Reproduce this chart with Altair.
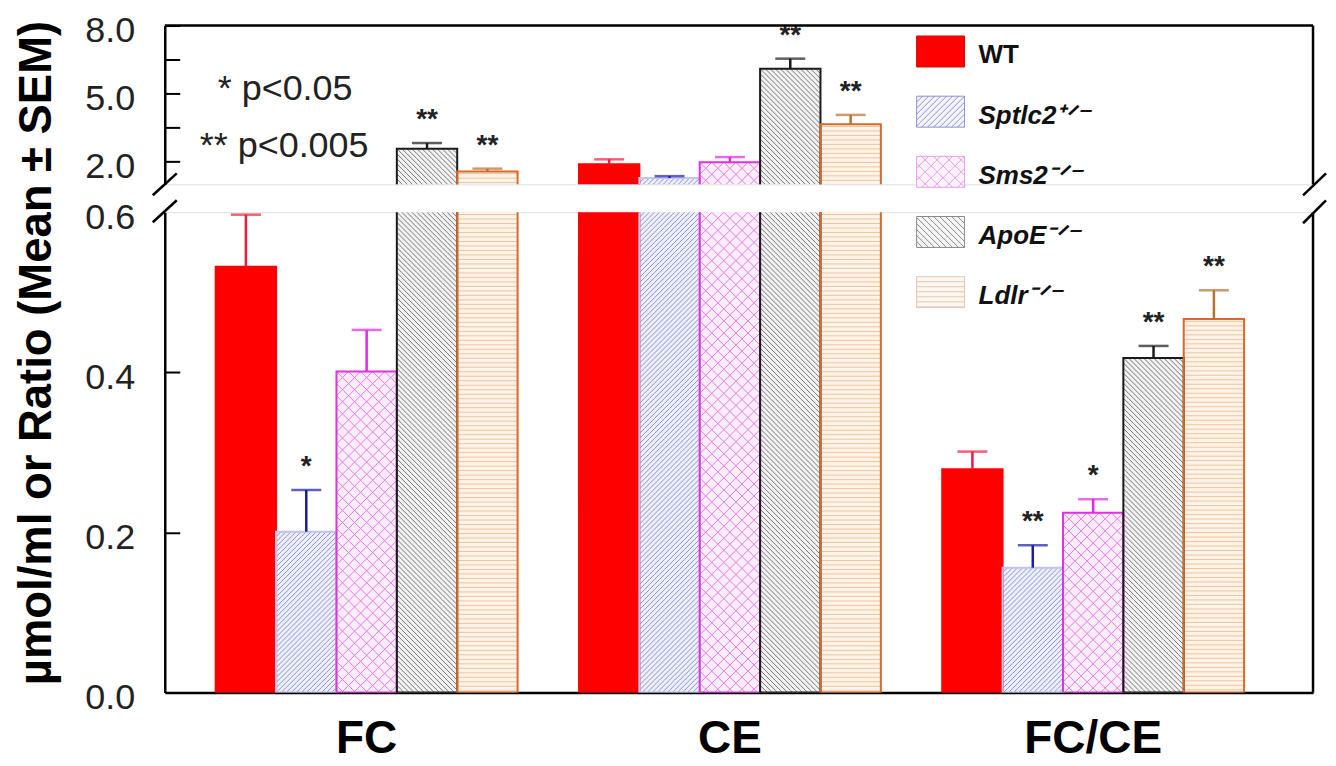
import altair as alt
import pandas as pd

# ---------------- data ----------------
groups = ["FC", "CE", "FC/CE"]
genotypes = ["WT", "Sptlc2", "Sms2", "ApoE", "Ldlr"]
legend_labels = ["WT", "Sptlc2⁺ᐟ⁻", "Sms2⁻ᐟ⁻", "ApoE⁻ᐟ⁻", "Ldlr⁻ᐟ⁻"]

fc_mean = [0.532, 0.201, 0.401, 2.57, 1.57]
ce_mean = [1.88, 1.28, 1.97, 6.10, 3.65]
ratio_mean = [0.279, 0.156, 0.2245, 0.418, 0.4665]

fc_sem = [0.065, 0.052, 0.052, 0.25, 0.12]
ce_sem = [0.22, 0.08, 0.23, 0.44, 0.41]
ratio_sem = [0.022, 0.028, 0.017, 0.015, 0.036]

fc_sig = ["", "*", "", "**", "**"]
ce_sig = ["", "", "", "**", "**"]
ratio_sig = ["", "**", "*", "**", "**"]

upper_tick_values = [2.0, 3.5, 5.0, 6.5, 8.0]
upper_label_values = [2.0, 5.0, 8.0]
lower_tick_values = [0.2, 0.4]
lower_label_values = [0.0, 0.2, 0.4, 0.6]

pvalue_notes = ["* p<0.05", "** p<0.005"]
y_title = "µmol/ml or Ratio (Mean ± SEM)"

rows = []
for g, means, sems, sigs in zip(groups, [fc_mean, ce_mean, ratio_mean],
                                [fc_sem, ce_sem, ratio_sem],
                                [fc_sig, ce_sig, ratio_sig]):
    for geno, m, s, sg in zip(genotypes, means, sems, sigs):
        rows.append({"group": g, "geno": geno, "value": m, "sem": s, "sig": sg})
df = pd.DataFrame(rows)
legend_df = pd.DataFrame({"geno": genotypes, "label": legend_labels})
one_df = pd.DataFrame({"k": [0]})

# ---------------- styling / geometry ----------------
FONT = "Liberation Sans"
W = 1150
H_UP = 159
H_LOW = 481
GAP = 28
UP_DOM = (1.0, 8.0)
LOW_DOM = (0.0, 0.6)
PI, PO, ALIGN = 0.169, 0.165, 0.425
STEP = W / (3 - PI + 2 * PO)
BAR_W = STEP * (1 - PI) / 5

fill_colors = ["#ff0000", "#eceefa", "#fcedfc", "#f1f1f1", "#fdf3e8"]
outline_colors = ["#ff0000", "#c0c4ee", "#e030e0", "#1a1a1a", "#d8692a"]
err_colors = ["#ee1c3c", "#1c1ca8", "#e028e0", "#1a1a1a", "#b8722e"]

# hatch: kind, spacing px, line colour
hatch = {
    "Sptlc2": ("fwd", 5.0, "#8a92d2"),
    "Sms2": ("cross", 12.0, "#e27ae2"),
    "ApoE": ("back", 5.0, "#777777"),
    "Ldlr": ("horiz", 4.5, "#efc49c"),
}
legend_style = {
    "WT": ("none", 1.0, "#ff0000", "#e00000"),
    "Sptlc2": ("fwd", 0.25, "#f4f4fc", "#8c92d6"),
    "Sms2": ("cross", 0.5, "#fdf3fd", "#e89ee8"),
    "ApoE": ("back", 0.25, "#f6f6f6", "#8a8a8a"),
    "Ldlr": ("horiz", 0.21, "#fdf8f2", "#e6c6ac"),
}

hatch_kind_spacing = {v[0]: v[1] for v in hatch.values()}


def tile_path(kind):
    spacing = hatch_kind_spacing[kind]
    if kind == "horiz":
        return "M-1,0L1,0", spacing
    n = max(1, round(BAR_W / spacing))
    hu = 2.0 / n
    segs = []
    for k in range(n):
        x0 = -1 + k * hu
        if kind in ("fwd", "cross"):
            segs.append(f"M{x0:.4f},{hu/2:.4f}L{x0+hu:.4f},{-hu/2:.4f}")
        if kind in ("back", "cross"):
            segs.append(f"M{x0:.4f},{-hu/2:.4f}L{x0+hu:.4f},{hu/2:.4f}")
    return "".join(segs), BAR_W / n


def swatch_path(kind, d, a=0.646):
    parts = [f"M-1,{-a:.3f}L1,{-a:.3f}L1,{a:.3f}L-1,{a:.3f}Z"]
    if kind in ("fwd", "back", "cross"):
        c = -1 - a + d
        while c < 1 + a:
            x1, x2 = max(-1, c - a), min(1, c + a)
            if x2 - x1 > 1e-6:
                if kind in ("fwd", "cross"):
                    parts.append(f"M{x1:.3f},{c-x1:.3f}L{x2:.3f},{c-x2:.3f}")
                if kind in ("back", "cross"):
                    parts.append(f"M{x1:.3f},{x1-c:.3f}L{x2:.3f},{x2-c:.3f}")
            c += d
    elif kind == "horiz":
        c = -a + d
        while c < a - 1e-6:
            parts.append(f"M-1,{c:.3f}L1,{c:.3f}")
            c += d
    return "".join(parts)


xscale = alt.Scale(domain=groups, paddingInner=PI, paddingOuter=PO, align=ALIGN)
x_axis = alt.Axis(labelFontSize=46, labelFontWeight="bold", labelFont=FONT,
                  labelColor="black", labelAngle=0, ticks=False, tickSize=0,
                  labelPadding=24, domain=True, domainColor="black",
                  domainWidth=2.5, grid=False)
x_low = alt.X("group:N", sort=groups, scale=xscale, axis=x_axis, title=None)
x_up = alt.X("group:N", sort=groups, scale=xscale, axis=None, title=None)
xoff = alt.XOffset("geno:N", sort=genotypes,
                   scale=alt.Scale(domain=genotypes, paddingInner=0, paddingOuter=0))

fill_enc = alt.Fill("geno:N", scale=alt.Scale(domain=genotypes, range=fill_colors), legend=None)
stroke_enc = alt.Stroke("geno:N", scale=alt.Scale(domain=genotypes, range=outline_colors), legend=None)
color_enc = alt.Color("geno:N", scale=alt.Scale(domain=genotypes, range=err_colors), legend=None)


def rule(x, x2, y, y2, width=2.5):
    return alt.Chart(one_df).mark_rule(color="black", strokeWidth=width, strokeCap="butt").encode(
        x=alt.value(x), x2=alt.value(x2), y=alt.value(y), y2=alt.value(y2))


def panel(lower):
    H = H_LOW if lower else H_UP
    lo, hi = LOW_DOM if lower else UP_DOM
    ysc = alt.Scale(domain=[lo, hi], nice=False, zero=False)
    xenc = x_low if lower else x_up

    label_kwargs = dict(values=lower_label_values if lower else upper_label_values,
                        format=".1f", ticks=False, tickSize=0, labelPadding=30,
                        labelFontSize=36, labelFont=FONT, labelColor="#222",
                        labelOffset=5, domain=True, domainColor="black",
                        domainWidth=2.5, grid=False)
    if lower:
        label_axis = alt.Axis(title=y_title, titleFontSize=45.5, titleFont=FONT,
                              titleFontWeight="bold", titleColor="black",
                              titleX=-114, titleY=140.5, titleBaseline="alphabetic",
                              titleAngle=270, **label_kwargs)
    else:
        label_axis = alt.Axis(title=None, **label_kwargs)
    tick_axis = alt.Axis(orient="right", offset=-W,
                         values=lower_tick_values if lower else upper_tick_values,
                         labels=False, domain=False, ticks=True, tickSize=15,
                         tickWidth=2, tickColor="black", grid=False, title=None)

    base = alt.Chart(df).transform_calculate(top="datum.value + datum.sem")
    vis = base.transform_filter(f"datum.value > {lo}")
    errs = vis.transform_filter(f"datum.value < {hi}")

    layers = []
    layers.append(vis.mark_bar(clip=True).encode(
        x=xenc, xOffset=xoff,
        y=alt.Y("value:Q", scale=ysc, axis=label_axis),
        y2=alt.datum(0), fill=fill_enc))

    for geno, (kind, _, col) in hatch.items():
        path, tile_px = tile_path(kind)
        s = tile_px * (hi - lo) / H
        expr = f"sequence(min(datum.value, {hi}) - {s/2}, {lo} - {s/2}, {-s})"
        layers.append(
            vis.transform_filter(alt.datum.geno == geno)
            .transform_calculate(ys=expr)
            .transform_flatten(["ys"])
            .mark_point(shape=path, size=BAR_W ** 2, filled=False, stroke=col,
                        strokeWidth=1, opacity=1, clip=True)
            .encode(x=xenc, xOffset=xoff, y=alt.Y("ys:Q", scale=ysc, axis=None)))

    layers.append(vis.mark_bar(clip=True, fillOpacity=0, strokeWidth=2).encode(
        x=xenc, xOffset=xoff, y=alt.Y("value:Q", scale=ysc, axis=None),
        y2=alt.datum(0), stroke=stroke_enc))

    layers.append(errs.mark_rule(strokeWidth=2.5).encode(
        x=xenc, xOffset=xoff, y=alt.Y("value:Q", scale=ysc, axis=tick_axis),
        y2="top:Q", color=color_enc))
    layers.append(errs.mark_tick(size=30, thickness=2.5).encode(
        x=xenc, xOffset=xoff, y=alt.Y("top:Q", scale=ysc, axis=None), color=color_enc))
    layers.append(errs.transform_filter("datum.sig != ''").mark_text(
        fontSize=28, fontWeight="bold", font=FONT, dy=-15, baseline="alphabetic",
        color="#222").encode(
        x=xenc, xOffset=xoff, y=alt.Y("top:Q", scale=ysc, axis=None), text="sig:N"))

    # frame + axis breaks
    if lower:
        layers.append(rule(W, W, 0, H))
        layers.append(rule(-12, 12, 10, -12))
        layers.append(rule(W - 10, W + 13, 11, -12))
    else:
        layers.append(rule(0, W, 0, 0))
        layers.append(rule(W, W, 0, H))
        layers.append(rule(-12, 12, H + 11, H - 11))
        layers.append(rule(W - 10, W + 13, H + 11, H - 11))
        # p-value notes
        for note, nx, ny in zip(pvalue_notes, [53, 35], [75, 132]):
            layers.append(alt.Chart(one_df).mark_text(
                text=note, fontSize=36, font=FONT, align="left",
                baseline="alphabetic", color="#222").encode(
                x=alt.value(nx), y=alt.value(ny)))
        # legend
        leg_y = alt.Y("geno:N", sort=genotypes,
                      scale=alt.Scale(type="point", domain=genotypes,
                                      range=[26, 267], padding=0), axis=None)
        for geno in genotypes:
            kind, d, fc, sc = legend_style[geno]
            layers.append(alt.Chart(legend_df).transform_filter(alt.datum.geno == geno)
                          .mark_point(shape=swatch_path(kind, d), size=48 ** 2,
                                      filled=True, fill=fc, stroke=sc, strokeWidth=1,
                                      opacity=1)
                          .encode(x=alt.value(777), y=leg_y))
        layers.append(alt.Chart(legend_df).transform_filter(alt.datum.geno == "WT")
                      .mark_text(fontSize=26, fontWeight="bold", font=FONT, align="left",
                                 baseline="middle", dy=4, color="#111")
                      .encode(x=alt.value(815), y=leg_y, text="label:N"))
        layers.append(alt.Chart(legend_df).transform_filter(alt.datum.geno != "WT")
                      .mark_text(fontSize=26, fontWeight="bold", fontStyle="italic",
                                 font=FONT, align="left", baseline="middle", dy=4,
                                 color="#111")
                      .encode(x=alt.value(815), y=leg_y, text="label:N"))

    return alt.layer(*layers).resolve_scale(y="independent").properties(width=W, height=H)


chart = alt.vconcat(panel(False), panel(True), spacing=GAP, bounds="flush").properties(
    padding={"left": 6, "top": 3, "right": 0, "bottom": 0}
).configure_view(stroke="transparent").configure(font=FONT)

chart.save("out.html", embed_options={"renderer": "svg", "actions": False})
